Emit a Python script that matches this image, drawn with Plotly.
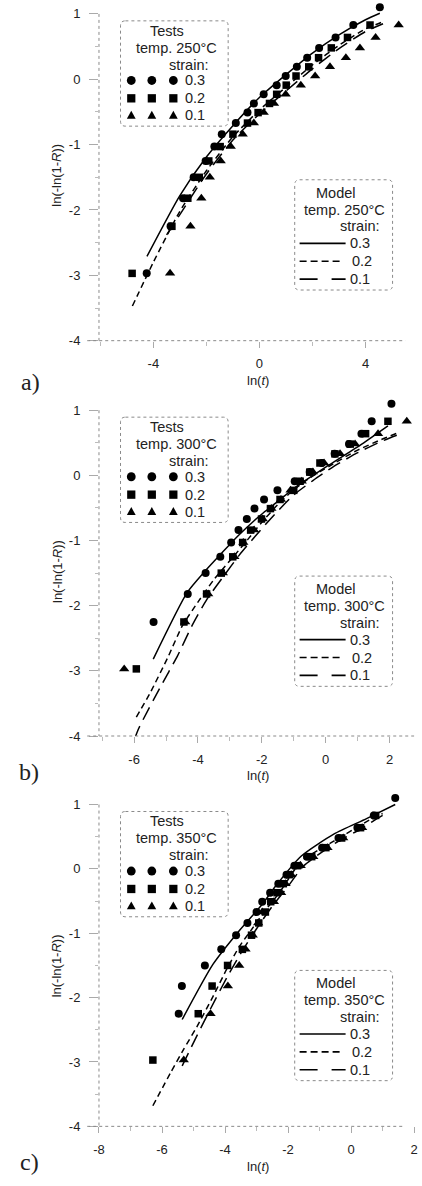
import plotly.graph_objects as go

# ---------------- data ----------------
# panel a) 250 C
A_CIRC_X = [-4.25, -3.35, -2.88, -2.48, -2.03, -1.70, -1.42, -0.89, -0.45, -0.21,
            0.16, 0.65, 0.99, 1.41, 1.80, 2.25, 2.87, 3.54, 4.54]
A_CIRC_Y = [-2.97, -2.25, -1.82, -1.50, -1.25, -1.03, -0.84, -0.67, -0.51, -0.37,
            -0.23, -0.09, 0.05, 0.19, 0.33, 0.48, 0.64, 0.83, 1.10]
A_SQ_X = [-4.80, -3.30, -2.70, -2.27, -1.91, -1.48, -1.00, -0.45, -0.05, 0.38,
          0.65, 1.01, 1.38, 1.86, 2.23, 2.71, 3.32, 4.17]
A_SQ_Y = [-2.97, -2.25, -1.82, -1.50, -1.25, -1.03, -0.84, -0.67, -0.51, -0.37,
          -0.23, -0.09, 0.05, 0.19, 0.33, 0.48, 0.64, 0.83]
A_TRI_X = [-3.37, -2.60, -2.19, -1.87, -1.46, -1.08, -0.63, -0.21, 0.16, 0.55,
           0.99, 1.56, 2.10, 2.66, 3.26, 3.79, 4.38, 5.25]
A_TRI_Y = [-2.97, -2.25, -1.82, -1.50, -1.25, -1.03, -0.84, -0.67, -0.51, -0.37,
           -0.23, -0.09, 0.05, 0.19, 0.33, 0.48, 0.64, 0.83]
A_M03_X = [-4.24, -3.0, -2.0, -1.0, 0.0, 1.0, 2.0, 3.0, 4.0, 4.54]
A_M03_Y = [-2.71, -1.78, -1.19, -0.71, -0.28, 0.07, 0.40, 0.68, 0.91, 1.01]
A_M02_X = [-4.79, -4.0, -3.0, -2.0, -1.0, 0.0, 1.0, 2.0, 3.0, 4.0, 4.66]
A_M02_Y = [-3.47, -2.80, -2.02, -1.40, -0.88, -0.47, -0.12, 0.22, 0.52, 0.77, 0.88]
A_M01_X = [-3.5, -3.0, -2.0, -1.0, 0.0, 1.0, 2.0, 3.0, 4.0, 4.66]
A_M01_Y = [-2.38, -2.07, -1.45, -0.93, -0.53, -0.18, 0.16, 0.47, 0.73, 0.85]

# panel b) 300 C
B_CIRC_X = [-5.39, -4.32, -3.76, -3.30, -2.96, -2.73, -2.47, -2.23, -1.93, -1.51,
            -0.97, -0.50, -0.12, 0.28, 0.73, 1.12, 1.44, 2.06]
B_CIRC_Y = [-2.25, -1.82, -1.50, -1.25, -1.03, -0.84, -0.67, -0.51, -0.37, -0.23,
            -0.09, 0.05, 0.19, 0.33, 0.48, 0.64, 0.83, 1.10]
B_SQ_X = [-5.93, -4.44, -3.73, -3.27, -2.91, -2.60, -2.35, -2.01, -1.73, -1.43,
          -1.00, -0.80, -0.50, -0.18, 0.29, 0.77, 1.25, 1.95]
B_SQ_Y = [-2.97, -2.25, -1.82, -1.50, -1.25, -1.03, -0.84, -0.67, -0.51, -0.37,
          -0.23, -0.09, 0.05, 0.19, 0.33, 0.48, 0.64, 0.83]
B_TRI_X = [-6.31, -4.40, -3.68, -3.22, -2.86, -2.58, -2.24, -1.97, -1.70, -1.40,
           -1.10, -0.75, -0.40, -0.05, 0.45, 0.92, 1.64, 2.54]
B_TRI_Y = [-2.97, -2.25, -1.82, -1.50, -1.25, -1.03, -0.84, -0.67, -0.51, -0.37,
           -0.23, -0.09, 0.05, 0.19, 0.33, 0.48, 0.64, 0.83]
B_M03_X = [-5.40, -4.34, -3.78, -3.27, -2.75, -2.25, -1.94, -1.50, -0.91, 0.11, 1.13, 1.95]
B_M03_Y = [-2.82, -1.80, -1.47, -1.20, -0.93, -0.70, -0.57, -0.40, -0.17, 0.16, 0.48, 0.76]
B_M02_X = [-5.93, -5.51, -4.95, -4.49, -3.98, -3.47, -2.86, -2.45, -2.0, -1.5, -1.0,
           -0.5, 0.11, 0.93, 1.74, 2.25]
B_M02_Y = [-3.71, -3.35, -2.80, -2.31, -1.93, -1.58, -1.23, -0.99, -0.72, -0.45, -0.22,
           -0.04, 0.14, 0.37, 0.55, 0.65]
B_M01_X = [-6.2, -5.87, -5.1, -4.64, -4.19, -3.73, -3.2, -2.7, -2.2, -1.6, -1.0,
           -0.4, 0.2, 0.93, 1.74, 2.25]
B_M01_Y = [-4.35, -3.90, -3.18, -2.77, -2.31, -1.91, -1.55, -1.22, -0.93, -0.60, -0.30,
           -0.08, 0.12, 0.33, 0.52, 0.62]

# panel c) 350 C
C_CIRC_X = [-5.47, -5.37, -4.64, -4.12, -3.65, -3.29, -3.00, -2.82, -2.57, -2.31,
            -2.05, -1.80, -1.40, -0.92, -0.40, 0.20, 0.72, 1.40]
C_CIRC_Y = [-2.25, -1.82, -1.50, -1.25, -1.03, -0.84, -0.67, -0.51, -0.37, -0.23,
            -0.09, 0.05, 0.19, 0.33, 0.48, 0.64, 0.83, 1.10]
C_SQ_X = [-6.29, -4.85, -4.41, -3.92, -3.45, -3.16, -2.93, -2.72, -2.55, -2.35,
          -2.15, -1.95, -1.70, -1.25, -0.80, -0.30, 0.30, 0.78]
C_SQ_Y = [-2.97, -2.25, -1.82, -1.50, -1.25, -1.03, -0.84, -0.67, -0.51, -0.37,
          -0.23, -0.09, 0.05, 0.19, 0.33, 0.48, 0.64, 0.83]
C_TRI_X = [-5.31, -4.46, -3.91, -3.55, -3.35, -3.12, -2.95, -2.82, -2.45, -2.22,
           -2.08, -1.90, -1.60, -1.20, -0.75, -0.25, 0.35]
C_TRI_Y = [-2.97, -2.25, -1.82, -1.50, -1.25, -1.03, -0.84, -0.67, -0.51, -0.37,
           -0.23, -0.09, 0.05, 0.19, 0.33, 0.48, 0.64]
C_M03_X = [-5.36, -4.38, -3.55, -2.82, -2.40, -1.58, -0.55, 0.49, 1.40]
C_M03_Y = [-2.34, -1.48, -0.96, -0.55, -0.27, 0.20, 0.54, 0.78, 1.00]
C_M02_X = [-6.29, -5.72, -5.31, -4.89, -4.38, -3.96, -3.55, -3.14, -2.73, -2.26,
           -1.58, -0.55, 0.69, 1.0]
C_M02_Y = [-3.68, -3.16, -2.80, -2.45, -1.98, -1.57, -1.21, -0.93, -0.65, -0.36,
           0.12, 0.43, 0.79, 0.86]
C_M01_X = [-5.36, -4.89, -4.31, -3.90, -3.45, -3.0, -2.5, -2.0, -1.5, -0.5, 0.3, 0.69, 1.0]
C_M01_Y = [-3.06, -2.59, -2.03, -1.65, -1.27, -0.93, -0.58, -0.27, 0.05, 0.40, 0.62, 0.74, 0.83]

TEMPS = ["250°C", "300°C", "350°C"]
PANEL_LABELS = ["a)", "b)", "c)"]
STRAINS = ["0.3", "0.2", "0.1"]

# ---------------- layout geometry (pixels) ----------------
W, H = 422, 1186
FONT = "Liberation Sans, Arial, sans-serif"
INK = "#222222"
AXC = "#8a8a8a"
YTOP_EXTRA = 0.2   # headroom above y=1 so the top markers stay visible


def X(p):
    return p / W


def Y(p):
    return 1 - p / H


panels = [
    dict(circ=(A_CIRC_X, A_CIRC_Y), sq=(A_SQ_X, A_SQ_Y), tri=(A_TRI_X, A_TRI_Y),
         m=[(A_M03_X, A_M03_Y), (A_M02_X, A_M02_Y), (A_M01_X, A_M01_Y)],
         xr=[-6.05, 5.5], xpx=[95, 408], ypx=[14, 343], xt=[-4, 0, 4], xminor=2,
         botline=[83, 408], lab=(25, 385)),
    dict(circ=(B_CIRC_X, B_CIRC_Y), sq=(B_SQ_X, B_SQ_Y), tri=(B_TRI_X, B_TRI_Y),
         m=[(B_M03_X, B_M03_Y), (B_M02_X, B_M02_Y), (B_M01_X, B_M01_Y)],
         xr=[-7.1, 2.8], xpx=[95, 418], ypx=[413, 741], xt=[-6, -4, -2, 0, 2], xminor=1,
         botline=[83, 417], lab=(24, 777)),
    dict(circ=(C_CIRC_X, C_CIRC_Y), sq=(C_SQ_X, C_SQ_Y), tri=(C_TRI_X, C_TRI_Y),
         m=[(C_M03_X, C_M03_Y), (C_M02_X, C_M02_Y), (C_M01_X, C_M01_Y)],
         xr=[-8.0, 2.03], xpx=[95, 418], ypx=[810, 1134], xt=[-8, -6, -4, -2, 0, 2], xminor=1,
         botline=[83, 405], lab=(24, 1170)),
]

DASHES = ["solid", "6px,4px", "14px,7px"]

fig = go.Figure()
shapes = []
annotations = []
layout_axes = {}


def rbox(bx0, by0, bx1, by1, r=5):
    return ("M {a},{b} L {c},{b} Q {d},{b} {d},{e} L {d},{f} Q {d},{g} {c},{g} "
            "L {a},{g} Q {h},{g} {h},{f} L {h},{e} Q {h},{b} {a},{b} Z").format(
        a=X(bx0 + r), b=Y(by0), c=X(bx1 - r), d=X(bx1), e=Y(by0 + r),
        f=Y(by1 - r), g=Y(by1), h=X(bx0))


for i, p in enumerate(panels):
    n = "" if i == 0 else str(i + 1)
    xa, ya = "x" + n, "y" + n
    x0, x1 = p["xpx"]
    yt, yb = p["ypx"]
    scale = (yb - yt) / 5.0
    ytop_dom = yt - YTOP_EXTRA * scale
    layout_axes["xaxis" + n] = dict(
        domain=[X(x0), X(x1)], range=p["xr"], anchor=ya,
        showgrid=False, zeroline=False, showline=False,
        tickvals=p["xt"], ticktext=[str(v) for v in p["xt"]],
        ticks="outside", ticklen=6, tickcolor="#aaaaaa", tickwidth=1,
        ticklabelstandoff=5,
        minor=dict(dtick=p["xminor"], tick0=0, ticks="outside", ticklen=4, tickcolor="#bbbbbb"),
        tickfont=dict(family=FONT, size=13, color=INK),
    )
    layout_axes["yaxis" + n] = dict(
        domain=[Y(yb), Y(ytop_dom)], range=[-4, 1 + YTOP_EXTRA], anchor=xa,
        showgrid=False, zeroline=False, showline=False,
        tickvals=[-4, -3, -2, -1, 0, 1], ticktext=["-4", "-3", "-2", "-1", "0", "1"],
        ticks="outside", ticklen=9, tickcolor="#aaaaaa", tickwidth=1,
        ticklabelstandoff=6,
        minor=dict(tickvals=[-3.5, -2.5, -1.5, -0.5, 0.5], ticks="outside", ticklen=3,
                   tickcolor="#bbbbbb"),
        tickfont=dict(family=FONT, size=13, color=INK),
    )

    # data markers
    for (xs, ys), sym, sz in [(p["circ"], "circle", 8), (p["sq"], "square", 7.5),
                              (p["tri"], "triangle-up", 9)]:
        fig.add_trace(go.Scatter(x=xs, y=ys, mode="markers", xaxis=xa, yaxis=ya,
                                 marker=dict(symbol=sym, size=sz, color="black",
                                             line=dict(width=0)),
                                 cliponaxis=False, showlegend=False, hoverinfo="skip"))
    # model lines
    for (xs, ys), d in zip(p["m"], DASHES):
        fig.add_trace(go.Scatter(x=xs, y=ys, mode="lines", xaxis=xa, yaxis=ya,
                                 line=dict(color="black", width=1.5, dash=d,
                                           shape="spline", smoothing=0.6),
                                 showlegend=False, hoverinfo="skip"))

    # dotted axis lines
    shapes.append(dict(type="line", xref="paper", yref="paper",
                       x0=X(x0), x1=X(x0), y0=Y(yt), y1=Y(yb),
                       line=dict(color=AXC, width=1, dash="dot")))
    shapes.append(dict(type="line", xref="paper", yref="paper",
                       x0=X(p["botline"][0]), x1=X(p["botline"][1]), y0=Y(yb), y1=Y(yb),
                       line=dict(color=AXC, width=1, dash="dot")))

    # axis titles & panel label
    annotations.append(dict(xref="paper", yref="paper", x=X(52), y=Y(yt + 162),
                            text="ln(-ln(1-<i>R</i>))", textangle=-90, showarrow=False,
                            font=dict(family=FONT, size=13, color=INK),
                            xanchor="center", yanchor="middle"))
    annotations.append(dict(xref="paper", yref="paper", x=X(258), y=Y(yb + 40),
                            text="ln(<i>t</i>)", showarrow=False,
                            font=dict(family=FONT, size=13, color=INK),
                            xanchor="center", yanchor="middle"))
    annotations.append(dict(xref="paper", yref="paper", x=X(p["lab"][0]), y=Y(p["lab"][1]),
                            text=PANEL_LABELS[i], showarrow=False,
                            font=dict(family="Liberation Serif, Times New Roman, serif",
                                      size=24, color=INK),
                            xanchor="center", yanchor="middle"))

    # ---------- "Tests" legend box ----------
    T = yt
    shapes.append(dict(type="path", xref="paper", yref="paper",
                       path=rbox(117, T + 7, 227, T + 113),
                       line=dict(color=AXC, width=1, dash="dot")))
    for txt, xx, yy, anc in [("Tests", 164, T + 17, "center"),
                             ("temp. " + TEMPS[i], 174, T + 34, "center"),
                             ("strain:", 209, T + 51, "right")]:
        annotations.append(dict(xref="paper", yref="paper", x=X(xx), y=Y(yy), text=txt,
                                showarrow=False, xanchor=anc, yanchor="middle",
                                font=dict(family=FONT, size=14.5, color=INK)))
    rows = [T + 67, T + 85, T + 102]
    for r_i, ry in enumerate(rows):
        for cx in (128, 149, 171):
            if r_i == 0:
                shapes.append(dict(type="circle", xref="paper", yref="paper",
                                   x0=X(cx - 4.5), x1=X(cx + 4.5), y0=Y(ry + 4.5), y1=Y(ry - 4.5),
                                   fillcolor="black", line=dict(width=0)))
            elif r_i == 1:
                shapes.append(dict(type="rect", xref="paper", yref="paper",
                                   x0=X(cx - 4.2), x1=X(cx + 4.2), y0=Y(ry + 4.2), y1=Y(ry - 4.2),
                                   fillcolor="black", line=dict(width=0)))
            else:
                shapes.append(dict(type="path", xref="paper", yref="paper",
                                   path="M {},{} L {},{} L {},{} Z".format(
                                       X(cx - 4.5), Y(ry + 3.5), X(cx + 4.5), Y(ry + 3.5),
                                       X(cx), Y(ry - 4.5)),
                                   fillcolor="black", line=dict(width=0)))
        annotations.append(dict(xref="paper", yref="paper", x=X(181), y=Y(ry), text=STRAINS[r_i],
                                showarrow=False, xanchor="left", yanchor="middle",
                                font=dict(family=FONT, size=14.5, color=INK)))

    # ---------- "Model" legend box ----------
    shapes.append(dict(type="path", xref="paper", yref="paper",
                       path=rbox(295, T + 167, 395, T + 278),
                       line=dict(color=AXC, width=1, dash="dot")))
    for txt, xx, yy, anc in [("Model", 337, T + 180, "center"),
                             ("temp. " + TEMPS[i], 346, T + 197, "center"),
                             ("strain:", 384, T + 214, "right")]:
        annotations.append(dict(xref="paper", yref="paper", x=X(xx), y=Y(yy), text=txt,
                                showarrow=False, xanchor=anc, yanchor="middle",
                                font=dict(family=FONT, size=14.5, color=INK)))
    mrows = [T + 231, T + 249, T + 267]
    line_ends = [347, 341, 347]
    leg_dash = ["solid", "7px,4px", "18px,14px"]
    for r_i, ry in enumerate(mrows):
        shapes.append(dict(type="line", xref="paper", yref="paper",
                           x0=X(300), x1=X(line_ends[r_i]), y0=Y(ry), y1=Y(ry),
                           line=dict(color="black", width=1.6, dash=leg_dash[r_i])))
        annotations.append(dict(xref="paper", yref="paper",
                                x=X(349 if r_i != 1 else 351), y=Y(ry), text=STRAINS[r_i],
                                showarrow=False, xanchor="left", yanchor="middle",
                                font=dict(family=FONT, size=14.5, color=INK)))

fig.update_layout(
    width=W, height=H,
    margin=dict(l=0, r=0, t=0, b=0),
    paper_bgcolor="white", plot_bgcolor="white",
    showlegend=False,
    font=dict(family=FONT, color=INK),
    shapes=shapes, annotations=annotations,
    **layout_axes,
)

fig.write_html("out.html",
               config={"displayModeBar": False, "staticPlot": True},
               post_script="document.body.style.margin='0';document.body.style.overflow='hidden';")
